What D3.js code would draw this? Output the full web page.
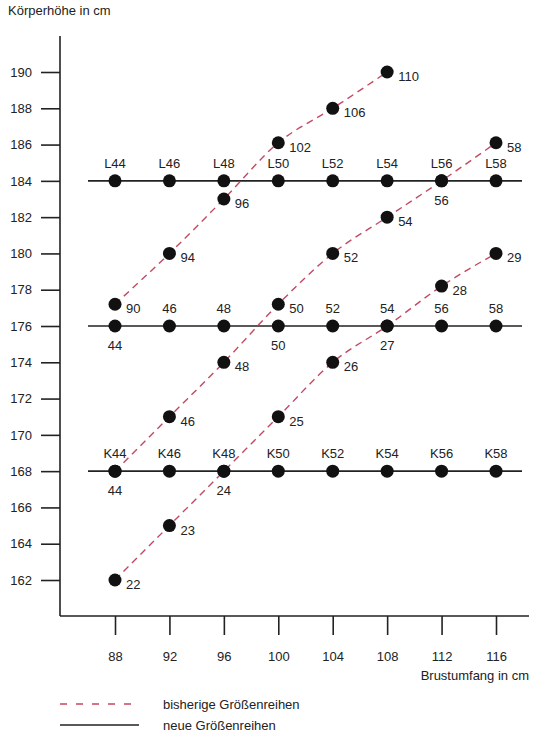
<!DOCTYPE html><html><head><meta charset="utf-8"><script src="https://cdn.jsdelivr.net/npm/d3@7"></script>
<style>body{margin:0;background:#fff}text{font-family:"Liberation Sans",Arial,sans-serif;font-size:13px;fill:#222}</style></head><body><svg id="c" width="550" height="745"></svg>
<script>
const xTicks=[88,92,96,100,104,108,112,116];
const yTicks=[162,164,166,168,170,172,174,176,178,180,182,184,186,188,190];
const solidRows=[184,176,168];
const rowLabelsAbove=[["L44","L46","L48","L50","L52","L54","L56","L58"],["","46","48","","52","54","56","58"],["K44","K46","K48","K50","K52","K54","K56","K58"]];
const rowLabelsBelow=[["","","","","","","56",""],["44","","","50","","27",""," "],["44","","24","","","","",""]];
const dashA=[[88,177.2],[92,180],[96,183],[100,186.1],[104,188],[108,190]];
const dashALabels=["90","94","96","102","106","110"];
const dashB=[[88,168],[92,171],[96,174],[100,177.2],[104,180],[108,182],[112,184],[116,186.1]];
const dashBLabels=["","46","48","50","52","54","","58"];
const dashC=[[88,162],[92,165],[96,168],[100,171],[104,174],[108,176],[112,178.2],[116,180]];
const dashCLabels=["22","23","","25","26","","28","29"];
const svg=d3.select("#c");
const x=d3.scaleLinear().domain([88,116]).range([115,496]);
const y=d3.scaleLinear().domain([162,190]).range([580,72]);
const red="#c24a62";
svg.append("line").attr("x1",60).attr("x2",60).attr("y1",36).attr("y2",616).attr("stroke","#222").attr("stroke-width",1.6);
svg.append("line").attr("x1",60).attr("x2",529).attr("y1",616).attr("y2",616).attr("stroke","#222").attr("stroke-width",1.6);
const yAx=svg.append("g").attr("transform","translate(60,0)").call(d3.axisLeft(y).tickValues(yTicks).tickFormat(d3.format("d")).tickSize(19).tickPadding(9));
yAx.select(".domain").remove();
const xAx=svg.append("g").attr("transform","translate(0,616)").call(d3.axisBottom(x).tickValues(xTicks).tickSize(19).tickPadding(17));
xAx.select(".domain").remove();
svg.selectAll(".tick line").attr("stroke","#222").attr("stroke-width",1.6);
svg.selectAll(".tick text").style("font-size","13px").attr("fill","#222").style("font-family","Liberation Sans, Arial, sans-serif");
svg.append("text").attr("x",8).attr("y",15).text("Körperhöhe in cm");
svg.append("text").attr("x",529).attr("y",680).attr("text-anchor","end").text("Brustumfang in cm");
solidRows.forEach((r,i)=>{
  svg.append("line").attr("x1",88).attr("x2",522).attr("y1",y(r)).attr("y2",y(r)).attr("stroke","#222").attr("stroke-width",1.6);
});
const line=d3.line().x(d=>x(d[0])).y(d=>y(d[1])).curve(d3.curveMonotoneX);
[dashA,dashB,dashC].forEach(s=>svg.append("path").attr("d",line(s)).attr("fill","none").attr("stroke",red).attr("stroke-width",1.4).attr("stroke-dasharray","7,5"));
const all=[];
solidRows.forEach(r=>xTicks.forEach(t=>all.push([t,r])));
[dashA,dashB,dashC].forEach(s=>s.forEach(p=>all.push(p)));
svg.selectAll("circle").data(all).join("circle").attr("cx",d=>x(d[0])).attr("cy",d=>y(d[1])).attr("r",6.5).attr("fill","#111");
solidRows.forEach((r,i)=>{
  xTicks.forEach((t,j)=>{
    if(rowLabelsAbove[i][j].trim()) svg.append("text").attr("x",x(t)).attr("y",y(r)-13).attr("text-anchor","middle").text(rowLabelsAbove[i][j]);
    if(rowLabelsBelow[i][j].trim()) svg.append("text").attr("x",x(t)).attr("y",y(r)+24).attr("text-anchor","middle").text(rowLabelsBelow[i][j]);
  });
});
[[dashA,dashALabels],[dashB,dashBLabels],[dashC,dashCLabels]].forEach(([s,l])=>s.forEach((p,j)=>{
  if(l[j]) svg.append("text").attr("x",x(p[0])+11).attr("y",y(p[1])+9).text(l[j]);
}));
svg.append("line").attr("x1",60).attr("x2",139).attr("y1",704).attr("y2",704).attr("stroke",red).attr("stroke-width",1.4).attr("stroke-dasharray","7,9");
svg.append("text").attr("x",163).attr("y",709).text("bisherige Größenreihen");
svg.append("line").attr("x1",60).attr("x2",139).attr("y1",725).attr("y2",725).attr("stroke","#222").attr("stroke-width",1.6);
svg.append("text").attr("x",163).attr("y",730).text("neue Größenreihen");
</script></body></html>
